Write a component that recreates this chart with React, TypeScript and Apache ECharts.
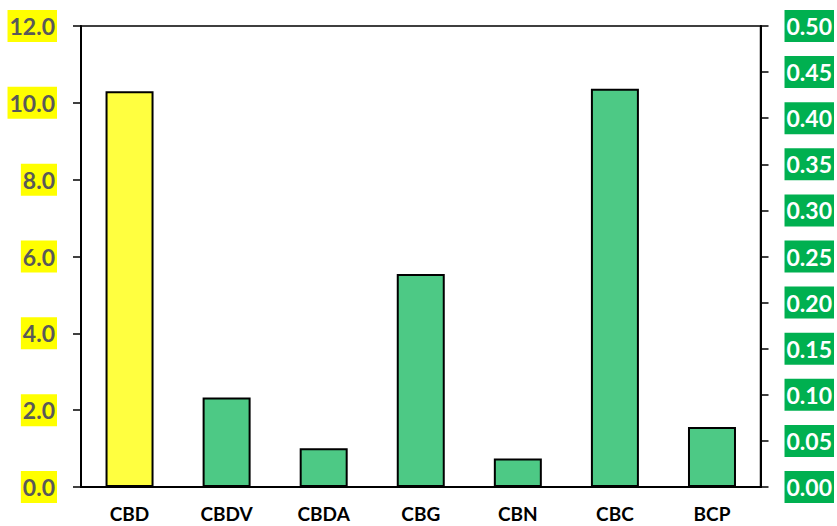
import React, { useEffect, useRef } from "react";
import * as echarts from "echarts";

const categories = ["CBD", "CBDV", "CBDA", "CBG", "CBN", "CBC", "BCP"];
const leftValues = [10.3, null, null, null, null, null, null];
const rightValues = [null, 0.097, 0.042, 0.231, 0.031, 0.432, 0.065];

export default function App() {
  const ref = useRef<HTMLDivElement>(null);
  useEffect(() => {
    if (!ref.current) return;
    const chart = echarts.init(ref.current, null, { renderer: "svg" });
    const font = "Lato, 'Open Sans', sans-serif";
    chart.setOption({
      animation: false,
      grid: {
        left: 81,
        right: 73,
        top: 26,
        bottom: 39,
        show: true,
        borderColor: "#000",
        borderWidth: 1.5,
        backgroundColor: "transparent",
      },
      xAxis: {
        type: "category",
        data: categories,
        axisLine: { lineStyle: { color: "#000", width: 2 } },
        axisTick: { show: false },
        axisLabel: {
          color: "#000",
          fontWeight: "bold",
          fontSize: 19,
          fontFamily: font,
          margin: 17,
        },
      },
      yAxis: [
        {
          type: "value",
          min: 0,
          max: 12,
          interval: 2,
          position: "left",
          splitLine: { show: false },
          axisLine: { show: true, lineStyle: { color: "#000", width: 2 } },
          axisTick: { show: true, length: 8, lineStyle: { color: "#000", width: 1.5 } },
          axisLabel: {
            formatter: (v: number) => v.toFixed(1),
            color: "#595959",
            fontWeight: "bold",
            fontSize: 23,
            fontFamily: font,
            backgroundColor: "#ffff00",
            padding: [5, 2, 4, 2],
            margin: 24,
          },
        },
        {
          type: "value",
          min: 0,
          max: 0.5,
          interval: 0.05,
          position: "right",
          splitLine: { show: false },
          axisLine: { show: true, lineStyle: { color: "#000", width: 2 } },
          axisTick: { show: true, length: 8, lineStyle: { color: "#000", width: 1.5 } },
          axisLabel: {
            formatter: (v: number) => v.toFixed(2),
            color: "#ffffff",
            fontWeight: "bold",
            fontSize: 23,
            fontFamily: font,
            backgroundColor: "#00b050",
            padding: [5, 2, 4, 2],
            margin: 24,
          },
        },
      ],
      series: [
        {
          type: "bar",
          yAxisIndex: 0,
          data: leftValues,
          barWidth: 48,
          barGap: "-100%",
          itemStyle: { color: "#ffff40", borderColor: "#000", borderWidth: 2 },
        },
        {
          type: "bar",
          yAxisIndex: 1,
          data: rightValues,
          barWidth: 48,
          barGap: "-100%",
          itemStyle: { color: "#4dc985", borderColor: "#000", borderWidth: 2 },
        },
      ],
    });
    return () => chart.dispose();
  }, []);
  return (
    <div
      ref={ref}
      style={{ position: "absolute", left: 0, top: 0, width: 837, height: 526, background: "#fff" }}
    />
  );
}
